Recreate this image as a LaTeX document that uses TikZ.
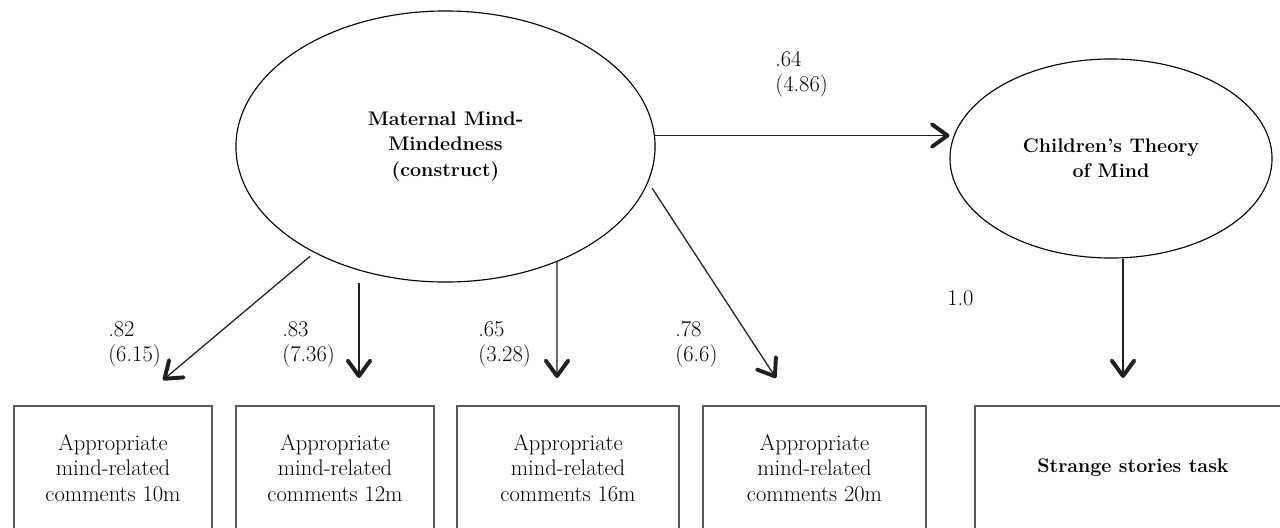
\documentclass[tikz,border=0pt]{standalone}
\usepackage{tikz}
\usetikzlibrary{arrows.meta}
\usetikzlibrary{shapes.geometric}
\tikzset{latent/.style = {draw, ellipse, line width=0.8pt, inner sep=0, align=center,
                          font=\fontsize{14}{18}\selectfont\bfseries}}
\tikzset{indicator/.style = {draw=bgray, rectangle, line width=1.2pt, inner sep=0, align=center,
                             minimum height=3.1cm, font=\fontsize{16}{18}\selectfont}}
\tikzset{coef/.style = {anchor=west, align=left, inner sep=0, font=\fontsize{16}{18}\selectfont}}
\tikzset{load/.style = {draw=lblack, line width=0.9pt,
                        -{Straight Barb[length=11pt, width=16pt, line width=2.8pt, round]}}}
\definecolor{bgray}{rgb}{0.35, 0.35, 0.35}
\definecolor{lblack}{rgb}{0.12, 0.12, 0.12}

\begin{document}
\begin{tikzpicture}[x=0.025cm, y=-0.025cm]
    \useasboundingbox (0, 0) rectangle (1280, 527);
    \clip (0, 0) rectangle (1280, 527);

    \node [latent, minimum width=10.475cm, minimum height=6.775cm] (mmm) at (445.5, 146.5) {Maternal Mind-\\Mindedness\\(construct)};
    \node [latent, minimum width=8.05cm, minimum height=4.975cm] (tom) at (1111, 158.5) {Children's Theory\\of Mind};

    \node [indicator, minimum width=4.95cm] (c10) at (113, 468) {Appropriate\\mind-related\\comments 10m};
    \node [indicator, minimum width=4.95cm] (c12) at (335, 468) {Appropriate\\mind-related\\comments 12m};
    \node [indicator, minimum width=5.55cm] (c16) at (568, 468) {Appropriate\\mind-related\\comments 16m};
    \node [indicator, minimum width=5.575cm] (c20) at (814.5, 468) {Appropriate\\mind-related\\comments 20m};
    \node [indicator, minimum width=7.9cm, font=\fontsize{14}{18}\selectfont\bfseries] (sst) at (1133, 468) {Strange stories task};

    \coordinate (t10) at (163, 380);
    \coordinate (t12) at (359, 378);
    \coordinate (t16) at (557, 378);
    \coordinate (t20) at (776, 378);
    \coordinate (tst) at (1123, 378);

    \draw [load] (mmm.3.4) -- (mmm.3.4 -| tom.west);
    \draw [load, shorten <=4pt] (mmm.219.5) -- (t10);
    \draw [load] (mmm.south -| t12) -- (t12);
    \draw [load] (mmm.314.2) -- (t16);
    \draw [load, shorten <=5pt] (mmm.350.1) -- (t20);
    \draw [load] (tom.south -| tst) -- (tst);

    \node [coef] (l64) at (775, 74) {.64\\(4.86)};
    \node [coef] (l82) at (108, 344.5) {.82\\(6.15)};
    \node [coef] (l83) at (282, 344.5) {.83\\(7.36)};
    \node [coef] (l65) at (478, 344.5) {.65\\(3.28)};
    \node [coef] (l78) at (675, 344.5) {.78\\(6.6)};
    \node [coef] (l10) at (947, 298) {1.0};
\end{tikzpicture}
\end{document}
